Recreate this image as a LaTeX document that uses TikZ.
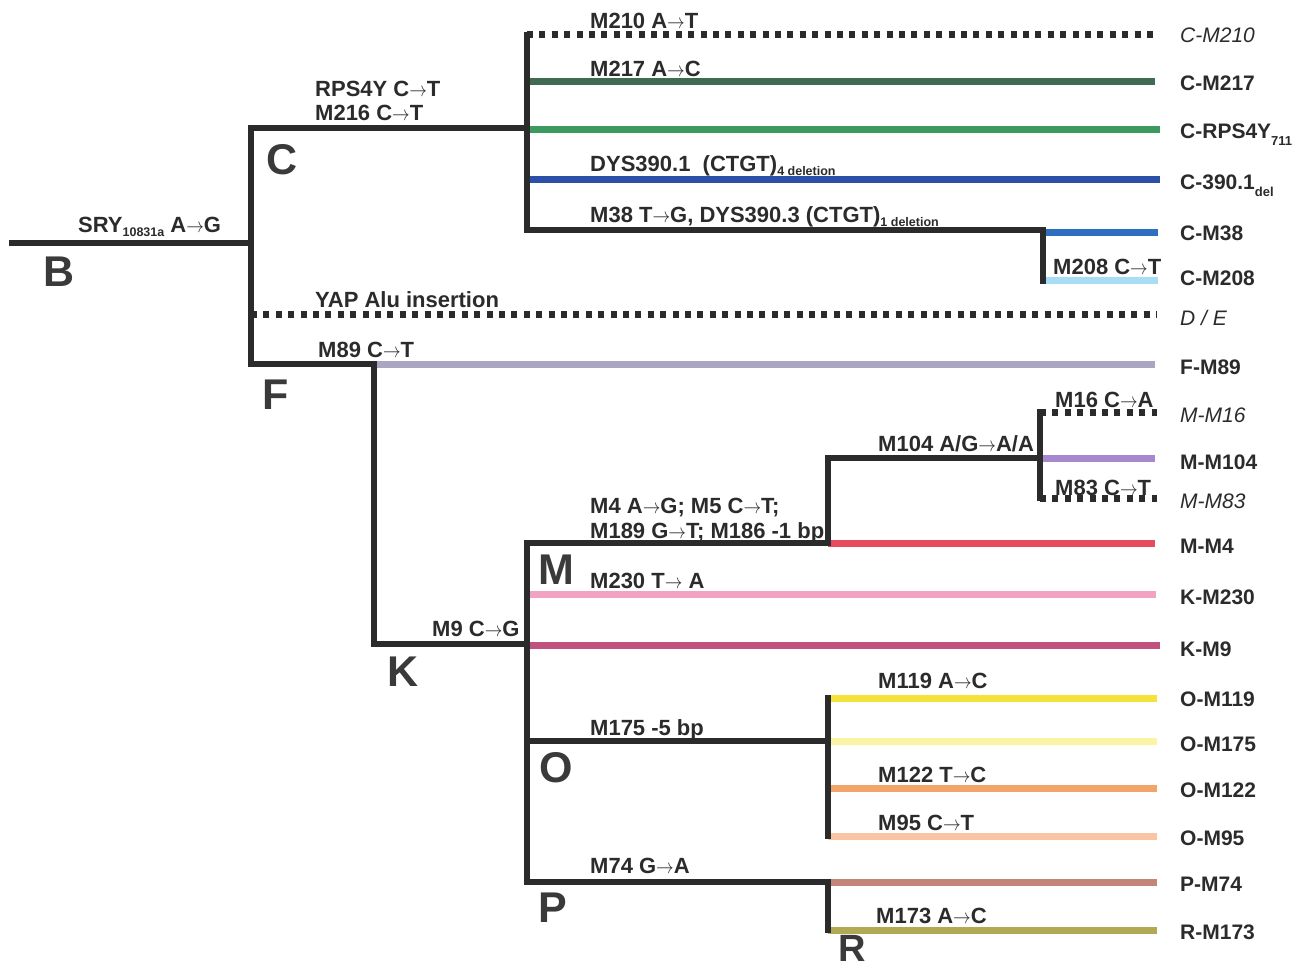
\documentclass[tikz,border=0pt]{standalone}
\usepackage{graphicx}
\usepackage{fontspec}
\setmainfont{Liberation Sans}
\definecolor{treeC}{HTML}{2B2B2B}
\definecolor{bigC}{HTML}{3A3A3A}
\definecolor{cA}{HTML}{3F6B52}
\definecolor{cB}{HTML}{3C9A5F}
\definecolor{cC}{HTML}{2C4FA8}
\definecolor{cD}{HTML}{2F6FC2}
\definecolor{cE}{HTML}{A9DCF5}
\definecolor{cF}{HTML}{AAA5C0}
\definecolor{cG}{HTML}{A688CC}
\definecolor{cH}{HTML}{E84A5F}
\definecolor{cI}{HTML}{F2A3C3}
\definecolor{cJ}{HTML}{C0527F}
\definecolor{cK}{HTML}{F5E23A}
\definecolor{cL}{HTML}{FBF4A5}
\definecolor{cM}{HTML}{F3A46A}
\definecolor{cN}{HTML}{F8C4A4}
\definecolor{cO}{HTML}{C58478}
\definecolor{cP}{HTML}{B1A954}
\newcommand\lsub[1]{\raisebox{-0.17em}{\fontsize{12.5}{13}\selectfont #1}}
\newcommand\tsub[1]{\raisebox{-0.3em}{\fontsize{13}{13}\selectfont #1}}
\newcommand\ar{\scalebox{0.85}[1]{\(\rightarrow\)}}
\begin{document}
\begin{tikzpicture}[x=1pt,y=-1pt,
  tree/.style={line width=6pt, draw=treeC, line join=miter, line cap=rect},
  br/.style={line width=7pt, line cap=butt},
  dots/.style={line width=7pt, draw=treeC, dash pattern=on 6pt off 6.4pt},
  lab/.style={font=\fontsize{22}{24}\selectfont\bfseries, anchor=base west, inner sep=0pt, text=treeC},
  tip/.style={font=\fontsize{21}{23}\selectfont\bfseries, anchor=base west, inner sep=0pt, text=treeC},
  tipi/.style={font=\fontsize{21}{23}\selectfont\itshape, anchor=base west, inner sep=0pt, text=treeC},
  big/.style={font=\fontsize{43}{45}\selectfont\bfseries, text=bigC, inner sep=0pt}]
\useasboundingbox (0,0) rectangle (1293,968);
% coordinates
\coordinate (root) at (12,243);
\coordinate (nB) at (251,243);
\coordinate (nCt) at (251,128);
\coordinate (nFb) at (251,364);
\coordinate (nDE) at (251,315);
\coordinate (nC) at (527,128);
\coordinate (cTop) at (527,35);
\coordinate (c217) at (527,82);
\coordinate (c4y) at (527,130);
\coordinate (c390) at (527,180);
\coordinate (cBot) at (527,230);
\coordinate (n38) at (1043,230);
\coordinate (n38b) at (1043,233);
\coordinate (n208) at (1043,281);
\coordinate (fK) at (374,364);
\coordinate (nK) at (374,644);
\coordinate (kJ) at (527,644);
\coordinate (k9) at (527,645);
\coordinate (k230) at (527,594);
\coordinate (mJ) at (527,543);
\coordinate (oJ) at (527,741);
\coordinate (pJ) at (527,882);
\coordinate (m1) at (828,543);
\coordinate (m2) at (828,458);
\coordinate (m3) at (1040,458);
\coordinate (m16) at (1040,412);
\coordinate (m83) at (1040,498);
\coordinate (o1) at (828,741);
\coordinate (oT) at (828,698);
\coordinate (oB) at (828,836);
\coordinate (oM122) at (828,788);
\coordinate (p1) at (828,882);
\coordinate (r1) at (828,930);
% ends
\coordinate (e210) at (1157,35);
\coordinate (e217) at (1155,82);
\coordinate (e4y) at (1160,130);
\coordinate (e390) at (1160,180);
\coordinate (e38) at (1158,233);
\coordinate (e208) at (1158,281);
\coordinate (eDE) at (1157,315);
\coordinate (e89) at (1155,364);
\coordinate (e16) at (1157,412);
\coordinate (e104) at (1155,458);
\coordinate (e83) at (1157,498);
\coordinate (e4) at (1155,543);
\coordinate (e230) at (1156,594);
\coordinate (e9) at (1160,645);
\coordinate (e119) at (1157,698);
\coordinate (e175) at (1157,741);
\coordinate (e122) at (1157,788);
\coordinate (e95) at (1157,836);
\coordinate (e74) at (1157,882);
\coordinate (e173) at (1157,930);
% coloured branches
\draw[br, cA] (c217) -- (e217);
\draw[br, cB] (c4y) -- (e4y);
\draw[br, cC] (c390) -- (e390);
\draw[br, cD] (n38b) -- (e38);
\draw[br, cE] (n208) -- (e208);
\draw[br, cF] (fK) -- (e89);
\draw[br, cG] (m3) -- (e104);
\draw[br, cH] (m1) -- (e4);
\draw[br, cI] (k230) -- (e230);
\draw[br, cJ] (k9) -- (e9);
\draw[br, cK] (oT) -- (e119);
\draw[br, cL] (o1) -- (e175);
\draw[br, cM] (oM122) -- (e122);
\draw[br, cN] (oB) -- (e95);
\draw[br, cO] (p1) -- (e74);
\draw[br, cP] (r1) -- (e173);
% dotted branches
\draw[dots] (cTop) -- (e210);
\draw[dots] (nDE) -- (eDE);
\draw[dots] (m16) -- (e16);
\draw[dots] (m83) -- (e83);
% tree
\draw[tree] (root) -- (nB);
\draw[tree] (nC) -- (nCt) -- (nFb) -- (fK) -- (nK) -- (kJ);
\draw[tree] (cTop) -- (cBot) -- (n38) -- (n208);
\draw[tree] (m3) -- (m2) -- (m1) -- (mJ) -- (pJ) -- (p1) -- (r1);
\draw[tree] (m16) -- (m83);
\draw[tree] (oJ) -- (o1);
\draw[tree] (oT) -- (oB);
% big letters
\node[big] (LB) at (59,272) {B};
\node[big] (LC) at (282,160) {C};
\node[big] (LF) at (276,395) {F};
\node[big] (LK) at (403,672) {K};
\node[big] (LM) at (556,570) {M};
\node[big] (LO) at (556,768) {O};
\node[big] (LP) at (553,908) {P};
\node[big, font=\fontsize{38}{40}\selectfont\bfseries] (LR) at (852,948) {R};
% branch labels
\node[lab] (tSRY) at (78,233) {SRY\lsub{10831a} A\ar G};
\node[lab] (tRPS) at (315,97) {RPS4Y C\ar T};
\node[lab] (t216) at (315,121) {M216 C\ar T};
\node[lab] (t210) at (590,29) {M210 A\ar T};
\node[lab] (t217) at (590,77) {M217 A\ar C};
\node[lab] (t390) at (590,172) {DYS390.1\ \ (CTGT)\lsub{4 deletion}};
\node[lab] (t38) at (590,223) {M38 T\ar G, DYS390.3 (CTGT)\lsub{1 deletion}};
\node[lab] (t208) at (1053,275) {M208 C\ar T};
\node[lab] (tYAP) at (315,308) {YAP Alu insertion};
\node[lab] (t89) at (318,357) {M89 C\ar T};
\node[lab] (t104) at (878,451) {M104 A/G\ar A/A};
\node[lab] (t16) at (1055,407) {M16 C\ar A};
\node[lab] (t83) at (1055,495) {M83 C\ar T};
\node[lab] (tM4) at (590,513) {M4 A\ar G; M5 C\ar T;};
\node[lab] (tM189) at (590,538) {M189 G\ar T; M186 -1 bp};
\node[lab] (t230) at (590,588) {M230 T\ar{} A};
\node[lab] (t9) at (432,636) {M9 C\ar G};
\node[lab] (t119) at (878,688) {M119 A\ar C};
\node[lab] (t175) at (590,735) {M175 -5 bp};
\node[lab] (t122) at (878,782) {M122 T\ar C};
\node[lab] (t95) at (878,830) {M95 C\ar T};
\node[lab] (t74) at (590,873) {M74 G\ar A};
\node[lab] (t173) at (876,923) {M173 A\ar C};
% tip labels
\node[tipi] (rM210) at (1180,43) {C-M210};
\node[tip] (rM217) at (1180,91) {C-M217};
\node[tip] (rRPS) at (1180,139) {C-RPS4Y\tsub{711}};
\node[tip] (r390) at (1180,190) {C-390.1\tsub{del}};
\node[tip] (rM38) at (1180,241) {C-M38};
\node[tip] (rM208) at (1180,286) {C-M208};
\node[tipi] (rDE) at (1180,326) {D / E};
\node[tip] (rM89) at (1180,374) {F-M89};
\node[tipi] (rM16) at (1180,422) {M-M16};
\node[tip] (rM104) at (1180,469) {M-M104};
\node[tipi] (rM83) at (1180,508) {M-M83};
\node[tip] (rM4) at (1180,553) {M-M4};
\node[tip] (rM230) at (1180,604) {K-M230};
\node[tip] (rM9) at (1180,656) {K-M9};
\node[tip] (rM119) at (1180,706) {O-M119};
\node[tip] (rM175) at (1180,751) {O-M175};
\node[tip] (rM122) at (1180,797) {O-M122};
\node[tip] (rM95) at (1180,845) {O-M95};
\node[tip] (rM74) at (1180,891) {P-M74};
\node[tip] (rM173) at (1180,939) {R-M173};
\end{tikzpicture}
\end{document}
